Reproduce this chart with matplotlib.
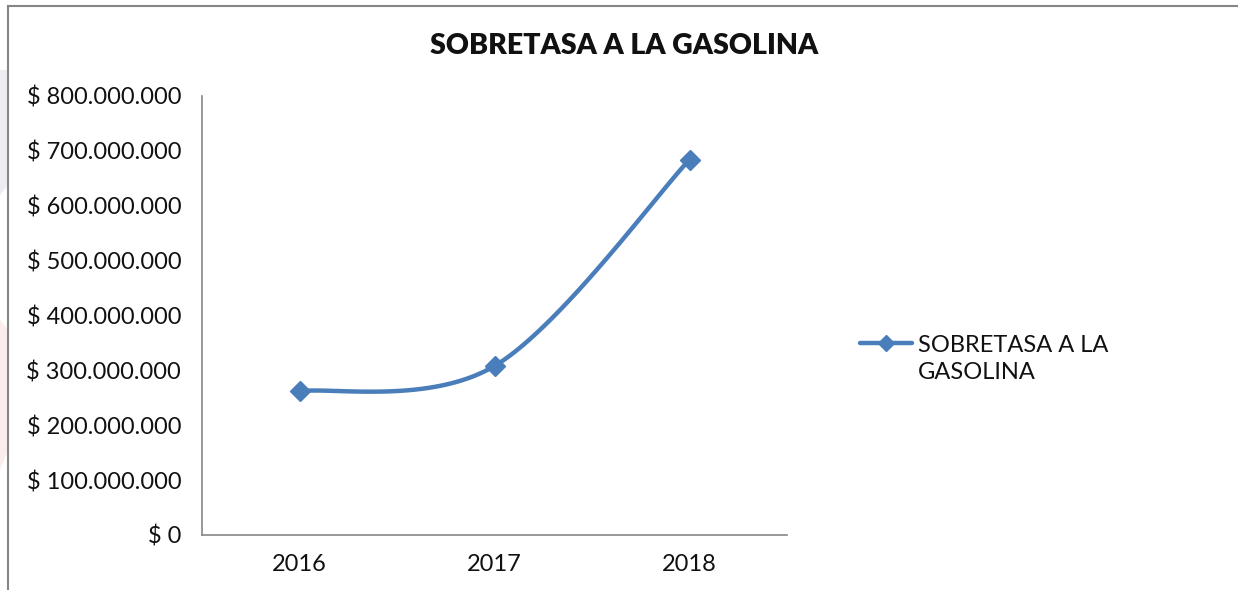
import matplotlib
matplotlib.use("Agg")
import matplotlib.pyplot as plt
import numpy as np
from matplotlib.lines import Line2D
from matplotlib.patches import Polygon
from matplotlib.ticker import FuncFormatter

# Recaudo por año
years = ["2016", "2017", "2018"]
sobretasa = [262_000_000, 308_000_000, 684_000_000]
series_name = "SOBRETASA A LA GASOLINA"
legend_label = "SOBRETASA A LA\nGASOLINA"

BLUE = "#4A7EBB"
AXIS_GRAY = "#868686"

plt.rcParams["font.family"] = ["Lato", "DejaVu Sans"]


def smooth_curve(x, y, n=60):
    """Catmull-Rom style cubic Bezier through the points (like a spreadsheet smoothed line)."""
    px = np.asarray(x, float)
    py = np.asarray(y, float)
    xs, ys = [], []
    for i in range(len(px) - 1):
        i0 = max(i - 1, 0)
        i3 = min(i + 2, len(px) - 1)
        c1x = px[i] + (px[i + 1] - px[i0]) / 6
        c1y = py[i] + (py[i + 1] - py[i0]) / 6
        c2x = px[i + 1] - (px[i3] - px[i]) / 6
        c2y = py[i + 1] - (py[i3] - py[i]) / 6
        t = np.linspace(0, 1, n)
        a, b, c, d = (1 - t) ** 3, 3 * t * (1 - t) ** 2, 3 * t ** 2 * (1 - t), t ** 3
        xs.append(a * px[i] + b * c1x + c * c2x + d * px[i + 1])
        ys.append(a * py[i] + b * c1y + c * c2y + d * py[i + 1])
    return np.concatenate(xs), np.concatenate(ys)


fig = plt.figure(figsize=(12.38, 5.9), dpi=100)
ax = fig.add_axes([202 / 1238, 1 - 535 / 590, 585 / 1238, 439 / 590])

# faint background shapes peeking out left of the chart frame
fig.patches.append(Polygon([[0, 1 - 70 / 590], [8 / 1238, 1 - 70 / 590], [8 / 1238, 1 - 185 / 590], [0, 1 - 195 / 590]],
                           closed=True, transform=fig.transFigure, facecolor="#ECEDF3", edgecolor="none"))
fig.patches.append(Polygon([[0, 1 - 320 / 590], [8 / 1238, 1 - 330 / 590], [8 / 1238, 1 - 450 / 590], [0, 1 - 470 / 590]],
                           closed=True, transform=fig.transFigure, facecolor="#FBEDEB", edgecolor="none"))

# chart frame (top and left edges)
fig.add_artist(Line2D([8 / 1238, 8 / 1238], [0, 1 - 6 / 590], transform=fig.transFigure, color=AXIS_GRAY, lw=1.5))
fig.add_artist(Line2D([8 / 1238, 1], [1 - 6 / 590, 1 - 6 / 590], transform=fig.transFigure, color=AXIS_GRAY, lw=1.5))

x = np.arange(len(years))
sx, sy = smooth_curve(x, sobretasa)
ax.plot(sx, sy, color=BLUE, lw=3.2, solid_capstyle="round", zorder=2)
ax.plot(x, sobretasa, linestyle="none", marker="D", markersize=10, color=BLUE, zorder=3)

ax.set_xlim(-0.5, len(years) - 0.5)
ax.set_ylim(0, 800_000_000)
ax.set_yticks(np.arange(0, 800_000_001, 100_000_000))
ax.yaxis.set_major_formatter(FuncFormatter(
    lambda v, _: "$ 0" if v == 0 else "$ " + f"{int(v):,}".replace(",", ".")))
ax.set_xticks(x, years)
ax.tick_params(axis="both", length=0, labelsize=17, colors="#111111")
ax.tick_params(axis="y", pad=15)
ax.tick_params(axis="x", pad=14)

for side in ("top", "right"):
    ax.spines[side].set_visible(False)
for side in ("left", "bottom"):
    ax.spines[side].set_color(AXIS_GRAY)
    ax.spines[side].set_linewidth(1.2)

fig.text(624 / 1238, 1 - 46 / 590, series_name, ha="center", va="center",
         fontsize=20.5, fontweight="heavy", color="#111111")

# legend drawn by hand so the label wraps like the original
leg_y = 1 - 343 / 590
fig.add_artist(Line2D([860 / 1238, 912 / 1238], [leg_y, leg_y], transform=fig.transFigure,
                      color=BLUE, lw=3.2, solid_capstyle="round"))
fig.add_artist(Line2D([886 / 1238], [leg_y], transform=fig.transFigure, marker="D",
                      markersize=8, color=BLUE, linestyle="none"))
fig.text(918 / 1238, 1 - 359 / 590, legend_label, ha="left", va="center", fontsize=17,
         color="#111111", linespacing=1.35)

fig.savefig("out.png", dpi=100, facecolor="white")
